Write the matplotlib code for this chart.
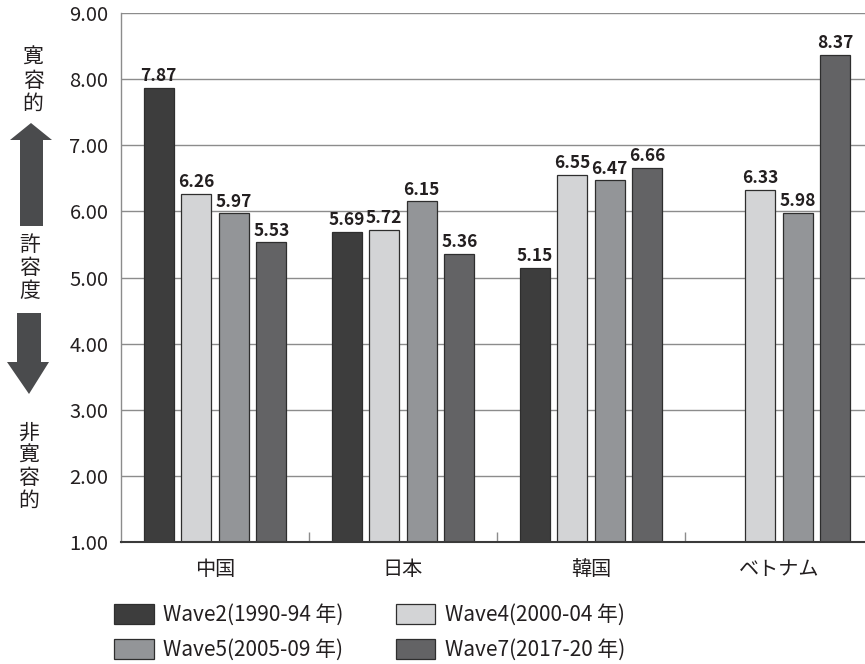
import numpy as np
import matplotlib
matplotlib.use("Agg")
import matplotlib.pyplot as plt
from matplotlib.patches import Polygon, Patch

plt.rcParams['font.family'] = ['Noto Sans CJK JP', 'DejaVu Sans']

# Tolerance scores by country and survey wave
countries = ["中国", "日本", "韓国", "ベトナム"]
wave_labels = ["Wave2(1990-94 年)", "Wave4(2000-04 年)",
               "Wave5(2005-09 年)", "Wave7(2017-20 年)"]
wave2 = [7.87, 5.69, 5.15, np.nan]
wave4 = [6.26, 5.72, 6.55, 6.33]
wave5 = [5.97, 6.15, 6.47, 5.98]
wave7 = [5.53, 5.36, 6.66, 8.37]
series = [wave2, wave4, wave5, wave7]
colors = ["#3d3d3d", "#d3d4d6", "#939598", "#636365"]
y_ticks = [1, 2, 3, 4, 5, 6, 7, 8, 9]

W, H = 865, 664
fig = plt.figure(figsize=(W / 100, H / 100), dpi=100)


def fx(px):
    return px / W


def fy(py):
    return 1 - py / H


ax = fig.add_axes([fx(121), fy(542), fx(873) - fx(121), fy(13) - fy(542)])

x = np.arange(len(countries))
bar_w = 0.16
step = 0.2
for i, (vals, col) in enumerate(zip(series, colors)):
    pos = x + (i - 1.5) * step
    vals = np.array(vals, dtype=float)
    mask = ~np.isnan(vals)
    ax.bar(pos[mask], vals[mask] - 1, bottom=1, width=bar_w,
           color=col, edgecolor="#2e2e2e", linewidth=0.9, zorder=3)
    for p, v in zip(pos[mask], vals[mask]):
        ax.annotate(f"{v:.2f}", (p, v), xytext=(0, 2), textcoords="offset points",
                    ha="center", va="bottom", fontsize=12.5, fontweight="bold",
                    color="#231f20", zorder=4)

ax.set_ylim(1, 9)
ax.set_xlim(-0.5, len(countries) - 0.5)
ax.set_yticks(y_ticks)
ax.set_yticklabels([f"{t:.2f}" for t in y_ticks], fontsize=14.5, color="#231f20")
ax.tick_params(axis="y", length=0, pad=9)
ax.grid(axis="y", color="#8c8c8c", linewidth=1.0, zorder=0)

ax.set_xticks(x)
ax.set_xticklabels(countries, fontsize=14.5, color="#231f20")
ax.tick_params(axis="x", which="major", length=0, pad=12)
ax.set_xticks(x[:-1] + 0.5, minor=True)
ax.tick_params(axis="x", which="minor", direction="in", length=7,
               color="#8c8c8c", width=1.0)

for s in ["top", "right"]:
    ax.spines[s].set_visible(False)
ax.spines["left"].set_color("#8c8c8c")
ax.spines["left"].set_linewidth(1.0)
ax.spines["bottom"].set_color("#3a3a3a")
ax.spines["bottom"].set_linewidth(1.5)
ax.spines["bottom"].set_zorder(5)

# Legend: two rows, two columns
handles = [Patch(facecolor=c, edgecolor="#2e2e2e", linewidth=0.9) for c in colors]
order = [0, 2, 1, 3]
fig.legend([handles[i] for i in order], [wave_labels[i] for i in order],
           ncol=2, loc="upper left", bbox_to_anchor=(fx(110), fy(600)),
           frameon=False, fontsize=15, handlelength=1.9, handleheight=1.05,
           handletextpad=0.45, columnspacing=2.5, labelspacing=0.62,
           borderaxespad=0, borderpad=0.2, labelcolor="#231f20")

# Side annotation: tolerance scale with arrows
arrow_col = "#4a4b4d"
up = [(31, 123), (52, 140), (43, 140), (43, 226), (20, 226), (20, 140), (10, 140)]
down = [(17, 313), (41, 313), (41, 362), (49, 362), (29, 394), (7, 362), (17, 362)]
for pts in (up, down):
    fig.patches.append(Polygon([(fx(a), fy(b)) for a, b in pts], closed=True,
                               transform=fig.transFigure, facecolor=arrow_col,
                               edgecolor="none"))

for txt, cx, cy in [("寛\n容\n的", 33, 81), ("許\n容\n度", 30, 268),
                    ("非\n寛\n容\n的", 29, 467)]:
    fig.text(fx(cx), fy(cy), txt, ha="center", va="center", fontsize=15,
             linespacing=1.05, color="#231f20")

fig.savefig("out.png", dpi=100)
